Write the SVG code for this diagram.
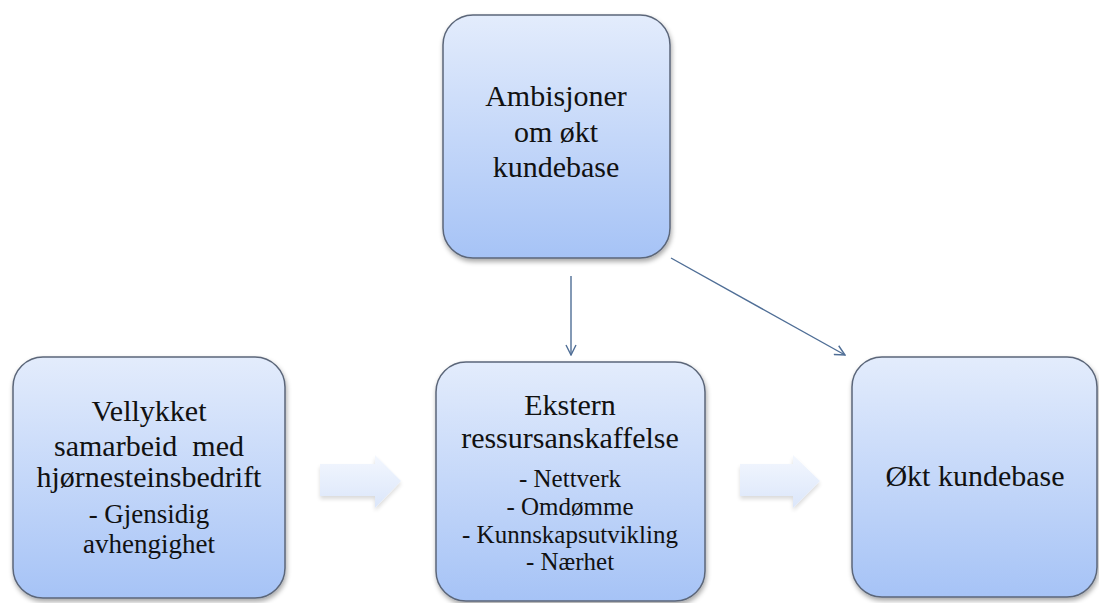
<svg xmlns="http://www.w3.org/2000/svg" width="1099" height="603" viewBox="0 0 1099 603">
  <defs>
    <linearGradient id="boxFill" x1="0" y1="0" x2="0" y2="1">
      <stop offset="0" stop-color="#e3ecfc"/>
      <stop offset="1" stop-color="#a6c3f6"/>
    </linearGradient>
    <linearGradient id="blockFill" x1="0" y1="0" x2="0" y2="1">
      <stop offset="0" stop-color="#f3f7fe"/>
      <stop offset="1" stop-color="#dbe6fa"/>
    </linearGradient>
    <filter id="shadow" x="-10%" y="-10%" width="125%" height="125%">
      <feGaussianBlur in="SourceAlpha" stdDeviation="2.5"/>
      <feOffset dx="1" dy="3" result="b"/>
      <feComponentTransfer><feFuncA type="linear" slope="0.35"/></feComponentTransfer>
      <feMerge><feMergeNode/><feMergeNode in="SourceGraphic"/></feMerge>
    </filter>
    <filter id="softShadow" x="-20%" y="-20%" width="150%" height="160%">
      <feGaussianBlur in="SourceAlpha" stdDeviation="2"/>
      <feOffset dx="0" dy="3" result="b"/>
      <feComponentTransfer><feFuncA type="linear" slope="0.15"/></feComponentTransfer>
      <feMerge><feMergeNode/><feMergeNode in="SourceGraphic"/></feMerge>
    </filter>
    <marker id="open" viewBox="0 0 12 12" refX="11" refY="6" markerWidth="12" markerHeight="12" markerUnits="userSpaceOnUse" orient="auto">
      <path d="M1,1 L11,6 L1,11" fill="none" stroke="#4f6e96" stroke-width="1.4"/>
    </marker>
  </defs>
  <style>
    .box { fill: url(#boxFill); stroke: #5b6679; stroke-width: 1.5; filter: url(#shadow); }
    .block { fill: url(#blockFill); stroke: none; filter: url(#softShadow); }
    .link { stroke: #4f6e96; stroke-width: 1.4; fill: none; marker-end: url(#open); }
    .label { font-family: "Liberation Serif", "Times New Roman", serif; fill: #111; text-anchor: middle; }
    .main { font-size: 30px; }
    .sub { font-size: 25px; }
    .sub-lg { font-size: 27px; }
  </style>
  <rect width="1099" height="603" fill="#ffffff"/>

  <!-- block arrows and line connectors -->
  <g id="connectors">
    <path class="block" d="M320,464 L375,464 L375,455 L401,481 L375,508 L375,496 L320,496 Z"/>
    <path class="block" d="M740,464 L793,464 L793,455 L820,481 L793,508 L793,496 L740,496 Z"/>
    <line class="link" x1="571" y1="276" x2="571" y2="355"/>
    <line class="link" x1="671" y1="258" x2="845" y2="355"/>
  </g>

  <g id="ambisjoner" class="label main">
    <rect class="box" x="443" y="15" width="227" height="243" rx="30"/>
    <text x="556" y="106">Ambisjoner</text>
    <text x="556" y="142">om økt</text>
    <text x="556" y="177">kundebase</text>
  </g>

  <g id="vellykket" class="label main">
    <rect class="box" x="13" y="357" width="272" height="241" rx="30"/>
    <text x="149" y="421">Vellykket</text>
    <text x="149" y="456" xml:space="preserve">samarbeid  med</text>
    <text x="149" y="487">hjørnesteinsbedrift</text>
    <text class="sub-lg" x="149" y="523">- Gjensidig</text>
    <text class="sub-lg" x="149" y="553">avhengighet</text>
  </g>

  <g id="ekstern" class="label main">
    <rect class="box" x="436" y="362" width="269" height="239" rx="30"/>
    <text x="570" y="415">Ekstern</text>
    <text x="570" y="448">ressursanskaffelse</text>
    <text class="sub" x="570" y="487">- Nettverk</text>
    <text class="sub" x="570" y="515">- Omdømme</text>
    <text class="sub" x="570" y="543">- Kunnskapsutvikling</text>
    <text class="sub" x="570" y="570">- Nærhet</text>
  </g>

  <g id="okt-kundebase" class="label main">
    <rect class="box" x="852" y="357" width="245" height="240" rx="30"/>
    <text x="975" y="486">Økt kundebase</text>
  </g>
</svg>
